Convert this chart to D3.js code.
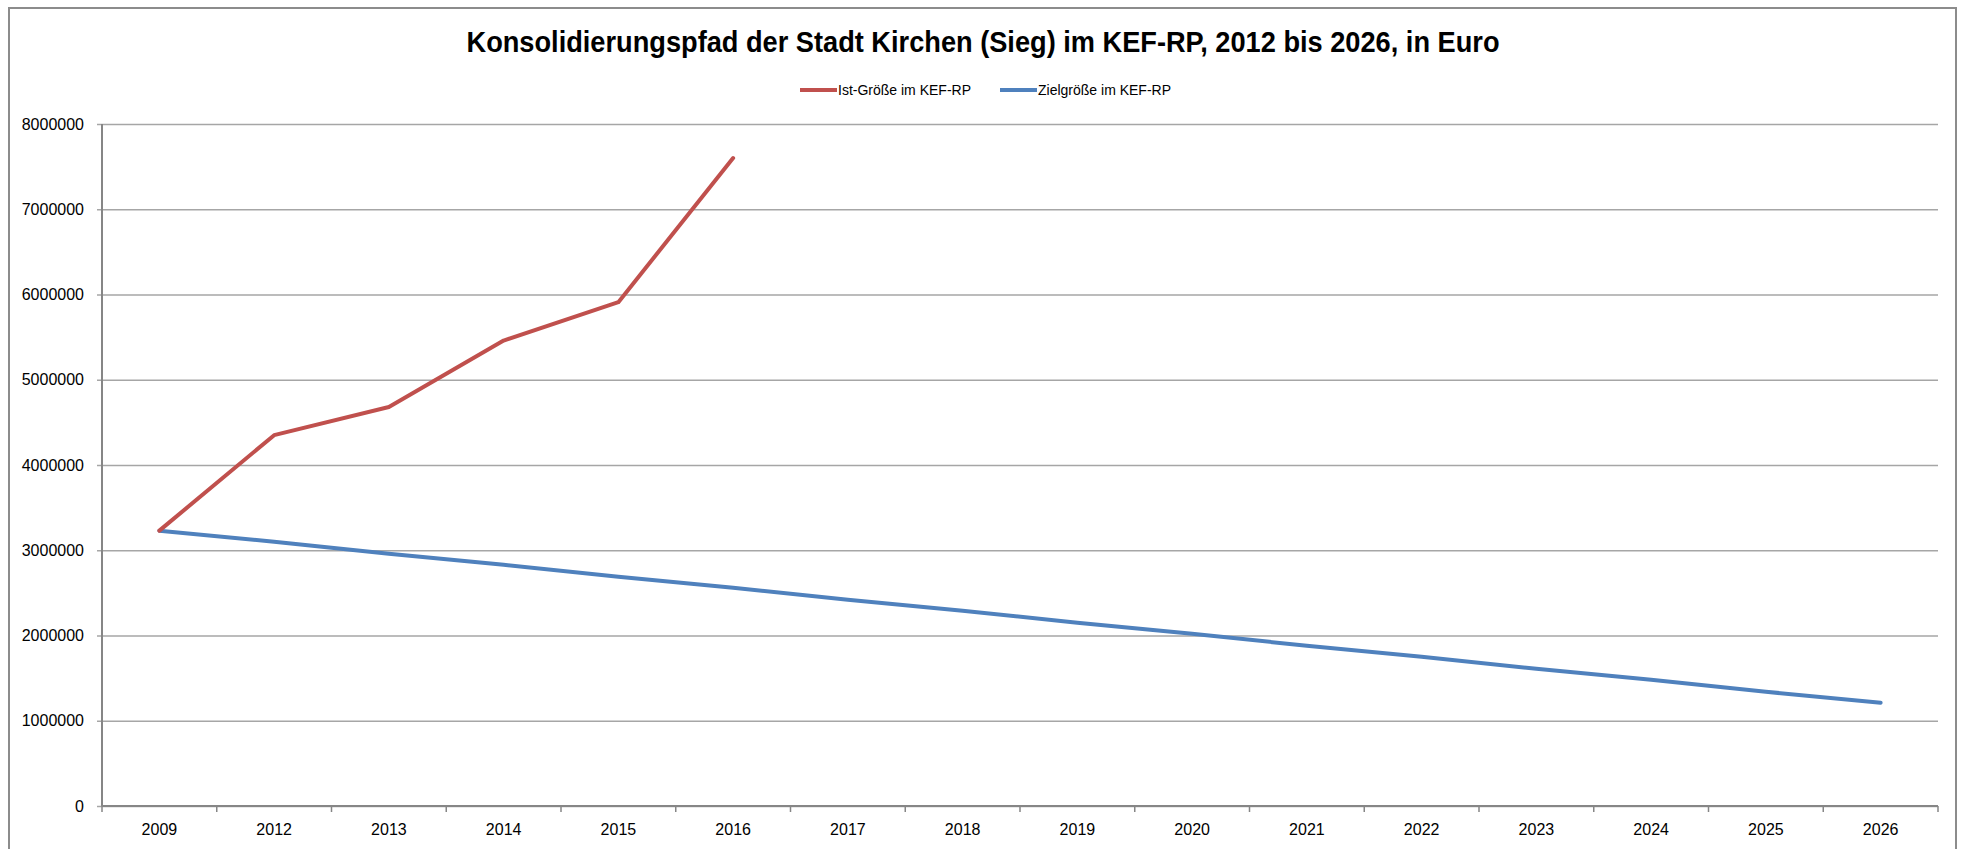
<!DOCTYPE html>
<html>
<head>
<meta charset="utf-8">
<script src="https://cdn.jsdelivr.net/npm/d3@7"></script>
<style>
  body { margin: 0; background: #fff; }
  svg { display: block; }
  .tick text { font-family: "Liberation Sans", Arial, sans-serif; font-size: 16px; fill: #000; }
</style>
</head>
<body>
<svg id="chart"></svg>
<script>
// categories (x axis)
const years = ['2009', '2012', '2013', '2014', '2015', '2016', '2017', '2018', '2019', '2020',
  '2021', '2022', '2023', '2024', '2025', '2026'];

// Ist-Größe im KEF-RP (only until 2016)
const istValues = [3230000, 4350000, 4680000, 5460000, 5910000, 7600000];

// Zielgröße im KEF-RP
const zielValues = [3230000, 3100000, 2960000, 2830000, 2690000, 2560000, 2420000, 2290000,
  2150000, 2020000, 1880000, 1750000, 1610000, 1480000, 1340000, 1210000];

const yTicks = [0, 1000000, 2000000, 3000000, 4000000, 5000000, 6000000, 7000000, 8000000];

const seriesNames = ['Ist-Größe im KEF-RP', 'Zielgröße im KEF-RP'];
const seriesColors = ['#C0504D', '#4F81BD'];

const chartTitle = 'Konsolidierungspfad der Stadt Kirchen (Sieg) im KEF-RP, 2012 bis 2026, in Euro';

const W = 1962, H = 849;
const margin = {top: 124, left: 102, right: 24, bottom: 43};
const width = W - margin.left - margin.right;
const height = H - margin.top - margin.bottom;

const svg = d3.select('#chart')
  .attr('width', W)
  .attr('height', H);

// outer chart frame
svg.append('rect')
  .attr('x', 9)
  .attr('y', 8)
  .attr('width', 1947)
  .attr('height', 900)
  .attr('fill', 'none')
  .attr('stroke', '#8c8c8c')
  .attr('stroke-width', 2);

// title
svg.append('text')
  .attr('x', 983)
  .attr('y', 52)
  .attr('text-anchor', 'middle')
  .attr('textLength', 1033)
  .attr('lengthAdjust', 'spacingAndGlyphs')
  .style('font-family', '"Liberation Sans Narrow", "Liberation Sans", Arial, sans-serif')
  .style('font-weight', 'bold')
  .style('font-size', '29px')
  .text(chartTitle);

// legend
const legendX = [800, 1000];
const legend = svg.append('g').attr('class', 'legend');
seriesNames.forEach((name, i) => {
  legend.append('line')
    .attr('x1', legendX[i])
    .attr('x2', legendX[i] + 37)
    .attr('y1', 90)
    .attr('y2', 90)
    .attr('stroke', seriesColors[i])
    .attr('stroke-width', 4);
  legend.append('text')
    .attr('x', legendX[i] + 38)
    .attr('y', 94.5)
    .style('font-family', '"Liberation Sans", Arial, sans-serif')
    .style('font-size', '14px')
    .text(name);
});

const chart = svg.append('g')
  .attr('transform', `translate(${margin.left},${margin.top})`);

// scales
const xScale = d3.scaleBand()
  .domain(years)
  .range([0, width])
  .padding(0);

const yScale = d3.scaleLinear()
  .domain([0, 8000000])
  .range([height, 0]);

const xMid = d => xScale(d) + xScale.bandwidth() / 2;

// y axis with gridlines
const yAxis = d3.axisLeft(yScale)
  .tickValues(yTicks)
  .tickFormat(d3.format('d'))
  .tickSizeInner(-width)
  .tickSizeOuter(0)
  .tickPadding(18);

const yGroup = chart.append('g')
  .attr('class', 'y-axis')
  .call(yAxis);

yGroup.select('.domain').remove();
yGroup.selectAll('.tick line')
  .attr('x1', -5)
  .attr('stroke', '#a6a6a6')
  .attr('stroke-width', 1.5);

// vertical axis line
chart.append('line')
  .attr('x1', 0).attr('x2', 0)
  .attr('y1', 0).attr('y2', height)
  .attr('stroke', '#868686')
  .attr('stroke-width', 2);

// x axis
const xAxis = d3.axisBottom(xScale)
  .tickSize(0)
  .tickPadding(17.5);

const xGroup = chart.append('g')
  .attr('class', 'x-axis')
  .attr('transform', `translate(0,${height})`)
  .call(xAxis);

xGroup.select('.domain').remove();

xGroup.append('line')
  .attr('x1', 0).attr('x2', width)
  .attr('y1', 0).attr('y2', 0)
  .attr('stroke', '#868686')
  .attr('stroke-width', 2);

// tick marks between categories
const boundaries = years.map(d => xScale(d)).concat([width]);
xGroup.selectAll('.bound')
  .data(boundaries)
  .join('line')
  .attr('class', 'bound')
  .attr('x1', d => d).attr('x2', d => d)
  .attr('y1', 0).attr('y2', 6)
  .attr('stroke', '#868686')
  .attr('stroke-width', 1.5);

// lines
const lineGen = d3.line()
  .x(d => xMid(d.year))
  .y(d => yScale(d.value));

const series = [
  istValues.map((v, i) => ({year: years[i], value: v})),
  zielValues.map((v, i) => ({year: years[i], value: v}))
];

// draw blue first so red sits on top at the shared start
[1, 0].forEach(i => {
  chart.append('path')
    .datum(series[i])
    .attr('fill', 'none')
    .attr('stroke', seriesColors[i])
    .attr('stroke-width', 4)
    .attr('stroke-linejoin', 'round')
    .attr('stroke-linecap', 'round')
    .attr('d', lineGen);
});
</script>
</body>
</html>
